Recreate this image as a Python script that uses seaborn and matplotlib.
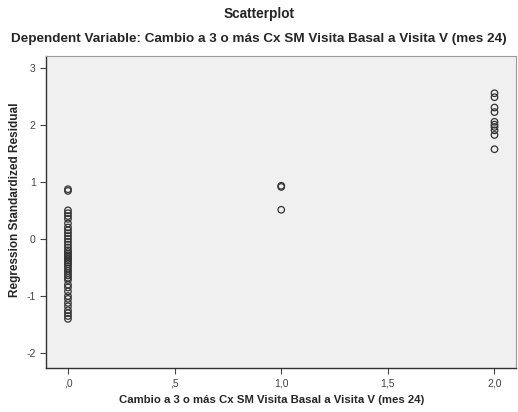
import matplotlib
matplotlib.use("Agg")
import matplotlib.pyplot as plt
import seaborn as sns
import pandas as pd

x0_vals = [0.87, 0.84, 0.50, 0.45, 0.40, 0.35, 0.27, 0.20, 0.15, 0.10, 0.05, 0.0,
           -0.05, -0.10, -0.15, -0.20, -0.23, -0.26, -0.29, -0.32, -0.35, -0.38,
           -0.41, -0.44, -0.48, -0.52, -0.56, -0.60, -0.64, -0.68, -0.72, -0.80,
           -0.85, -0.92, -1.00, -1.05, -1.12, -1.18, -1.25, -1.30, -1.35, -1.40]
x1_vals = [0.93, 0.91, 0.51]
x2_vals = [2.55, 2.48, 2.30, 2.22, 2.05, 2.00, 1.96, 1.90, 1.82, 1.57]

xs = [0.0] * len(x0_vals) + [1.0] * len(x1_vals) + [2.0] * len(x2_vals)
ys = x0_vals + x1_vals + x2_vals
df = pd.DataFrame({"x": xs, "y": ys})

xticks = [0.0, 0.5, 1.0, 1.5, 2.0]
xticklabels = [",0", ",5", "1,0", "1,5", "2,0"]
yticks = [-2, -1, 0, 1, 2, 3]
yticklabels = ["-2", "-1", "0", "1", "2", "3"]

sns.set_style("white")
plt.rcParams['font.family'] = ['Liberation Sans', 'DejaVu Sans']

fig = plt.figure(figsize=(5.18, 4.12), dpi=100)
ax = fig.add_axes([0.0888, 0.1068, 0.907, 0.757])
ax.set_facecolor("#F0F0F0")

sns.scatterplot(data=df, x="x", y="y", ax=ax, marker="o", s=22,
                facecolors="none", edgecolor="#333333", linewidth=0.9, legend=False)

ax.set_xlim(-0.103, 2.1)
ax.set_ylim(-2.26, 3.2)
ax.set_xticks(xticks)
ax.set_xticklabels(xticklabels)
ax.set_yticks(yticks)
ax.set_yticklabels(yticklabels)
ax.tick_params(axis="both", direction="out", length=4, width=0.8, colors="#444444",
               labelsize=7.5, labelcolor="#444444", bottom=True, left=True)
for side in ["left", "bottom"]:
    ax.spines[side].set_color("#333333")
    ax.spines[side].set_linewidth(1.0)
for side in ["top", "right"]:
    ax.spines[side].set_color("#999999")
    ax.spines[side].set_linewidth(0.8)

ax.set_xlabel("Cambio a 3 o más Cx SM Visita Basal a Visita V (mes 24)",
              fontsize=8.2, fontweight="bold")
ax.set_ylabel("Regression Standardized Residual", fontsize=8.5, fontweight="bold")
ax.xaxis.set_label_coords(0.48, -0.088)
ax.yaxis.set_label_coords(-0.053, 0.54)

fig.text(0.5, 0.965, "Scatterplot", ha="center", va="center", fontsize=9.8, fontweight="bold")
fig.text(0.5, 0.905, "Dependent Variable: Cambio a 3 o más Cx SM Visita Basal a Visita V (mes 24)",
         ha="center", va="center", fontsize=9.7, fontweight="bold")

fig.savefig("out.png", dpi=100, facecolor="white")
